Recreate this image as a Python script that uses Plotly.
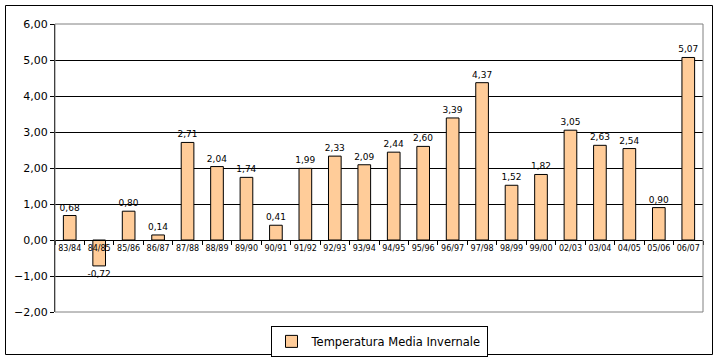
import plotly.graph_objects as go

categories = ["83/84", "84/85", "85/86", "86/87", "87/88", "88/89", "89/90", "90/91",
              "91/92", "92/93", "93/94", "94/95", "95/96", "96/97", "97/98", "98/99",
              "99/00", "02/03", "03/04", "04/05", "05/06", "06/07"]
values = [0.68, -0.72, 0.80, 0.14, 2.71, 2.04, 1.74, 0.41, 1.99, 2.33, 2.09, 2.44,
          2.60, 3.39, 4.37, 1.52, 1.82, 3.05, 2.63, 2.54, 0.90, 5.07]
series_name = "Temperatura Media Invernale"
y_ticks = [-2, -1, 0, 1, 2, 3, 4, 5, 6]

W, H = 719, 360
L, R, T, B = 55, 16, 24, 48
font_family = "Verdana, DejaVu Sans, sans-serif"

fig = go.Figure()
fig.add_trace(go.Bar(
    x=categories, y=values, name=series_name,
    marker=dict(color="#FFCC99", line=dict(color="black", width=1)),
    texttemplate="%{y:.2f}", textposition="outside", constraintext="none",
    cliponaxis=False,
    textfont=dict(family=font_family, size=9, color="black"),
    showlegend=True,
))

plot_h = H - T - B
pw = W - L - R
zero_pos = (0 - y_ticks[0]) / (y_ticks[-1] - y_ticks[0])

fig.update_layout(
    width=W, height=H,
    margin=dict(l=L, r=R, t=T, b=B, pad=0, autoexpand=False),
    paper_bgcolor="white", plot_bgcolor="white",
    separators=",.",
    bargap=0.57,
    font=dict(family=font_family, color="black"),
    showlegend=True,
    legend=dict(
        orientation="h", x=0.5, xanchor="center", y=-0.102, yanchor="middle",
        bordercolor="black", borderwidth=1, bgcolor="white",
        font=dict(family=font_family, size=11.5, color="black"),
        itemwidth=30, tracegroupgap=0,
    ),
    xaxis=dict(
        type="category", anchor="free", position=zero_pos,
        showline=True, linecolor="black", linewidth=1,
        ticks="outside", ticklen=4, tickcolor="black", tickson="boundaries",
        tickangle=0, automargin=False,
        tickfont=dict(family=font_family, size=8, color="black"),
        showgrid=False, zeroline=False, fixedrange=True,
    ),
    yaxis=dict(
        range=[y_ticks[0], y_ticks[-1]], tickvals=y_ticks, tickformat=".2f",
        showline=True, linecolor="black", linewidth=1,
        ticks="outside", ticklen=4, tickcolor="black",
        showgrid=True, gridcolor="black", gridwidth=1,
        zeroline=True, zerolinecolor="black", zerolinewidth=1,
        automargin=False,
        tickfont=dict(family=font_family, size=11, color="black"),
        domain=[0, 1],
    ),
)

# plot-area border (grey) and chart outer border (black)
fig.add_shape(type="rect", xref="paper", yref="paper", x0=0, x1=1, y0=0, y1=1,
              line=dict(color="#808080", width=1), layer="above")
fig.add_shape(type="rect", xref="paper", yref="paper",
              x0=(5.5 - L) / pw, x1=(712.5 - L) / pw,
              y0=(H - B - 354.5) / plot_h, y1=(H - B - 5.5) / plot_h,
              line=dict(color="black", width=1), layer="below")

fig.write_html(
    "out.html",
    config={"displayModeBar": False},
    post_script="document.body.style.margin='0';document.body.style.overflow='hidden';",
)
